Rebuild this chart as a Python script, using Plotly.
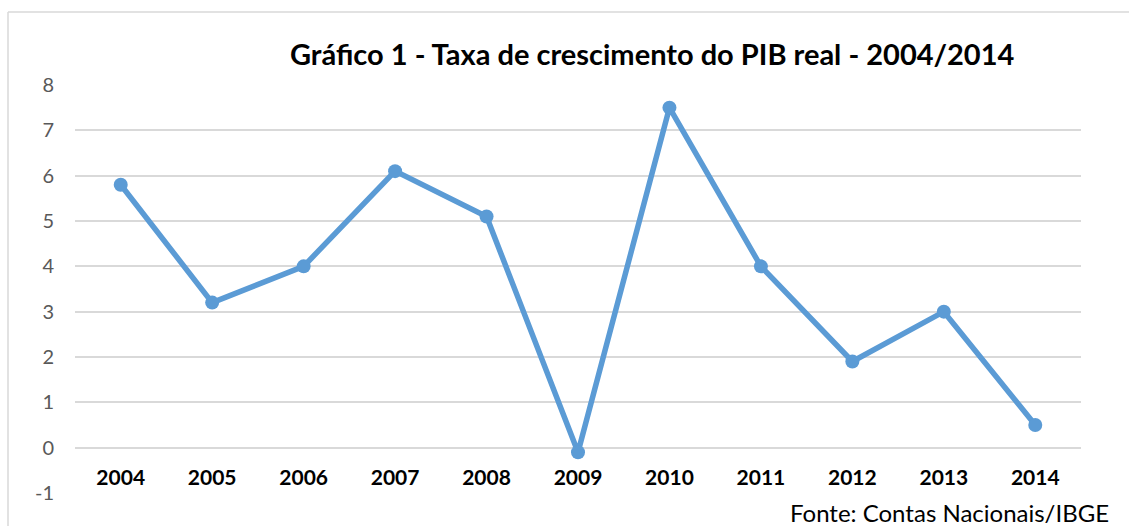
import plotly.graph_objects as go

years = ["2004", "2005", "2006", "2007", "2008", "2009", "2010", "2011", "2012", "2013", "2014"]
growth = [5.8, 3.2, 4.0, 6.1, 5.1, -0.1, 7.5, 4.0, 1.9, 3.0, 0.5]
y_ticks = [-1, 0, 1, 2, 3, 4, 5, 6, 7, 8]
y_tick_labels = ["-1", "0", "1", "2", "3", "4", "5", "6", "7", "8"]

title_text = "Gráfico 1 - Taxa de crescimento do PIB real - 2004/2014"
source_text = "Fonte: Contas Nacionais/IBGE"

W, H = 1129, 526
ml, mr, mt, mb = 75, 48, 85, 33
pw, ph = W - ml - mr, H - mt - mb

def px_x(x):
    return (x - ml) / pw

def px_y(y):
    return (H - mb - y) / ph

blue = "#5B9BD5"
font_family = "Lato, Carlito, Calibri, sans-serif"

fig = go.Figure()
fig.add_trace(go.Scatter(
    x=years, y=growth, mode="lines+markers",
    line=dict(color=blue, width=5.5),
    marker=dict(color=blue, size=14),
    showlegend=False, cliponaxis=False,
))

fig.update_layout(
    width=W, height=H,
    margin=dict(l=ml, r=mr, t=mt, b=mb, autoexpand=False),
    paper_bgcolor="white", plot_bgcolor="white",
    font=dict(family=font_family),
    xaxis=dict(
        type="category", range=[-0.5, 10.5],
        showgrid=False, zeroline=False, showline=False,
        anchor="free", position=1 / 9,
        ticks="outside", ticklen=11, tickcolor="rgba(0,0,0,0)",
        tickfont=dict(size=21, color="black", family=font_family, weight="bold"),
    ),
    yaxis=dict(
        range=[-1, 8], tickvals=y_ticks, ticktext=y_tick_labels,
        showgrid=True, gridcolor="#d9d9d9", gridwidth=1.5,
        zeroline=False, showline=False,
        ticks="outside", ticklen=16, tickcolor="rgba(0,0,0,0)",
        tickfont=dict(size=20, color="#595959", family=font_family),
    ),
    annotations=[
        dict(text=f"<b>{title_text}</b>", xref="paper", yref="paper",
             x=px_x(652), y=px_y(53), xanchor="center", yanchor="middle",
             showarrow=False, font=dict(size=29, color="black", family=font_family)),
        dict(text=source_text, xref="paper", yref="paper",
             x=px_x(1111), y=px_y(512), xanchor="right", yanchor="middle",
             showarrow=False, font=dict(size=24, color="black", family=font_family)),
    ],
    shapes=[
        dict(type="line", xref="paper", yref="paper",
             x0=px_x(8), x1=px_x(1135), y0=px_y(12), y1=px_y(12),
             line=dict(color="#d9d9d9", width=1.5)),
        dict(type="line", xref="paper", yref="paper",
             x0=px_x(8), x1=px_x(8), y0=px_y(12), y1=px_y(530),
             line=dict(color="#d9d9d9", width=1.5)),
    ],
)

fig.write_html(
    "out.html",
    config={"displayModeBar": False},
    post_script="document.body.style.margin='0';document.body.style.overflow='hidden';",
)
